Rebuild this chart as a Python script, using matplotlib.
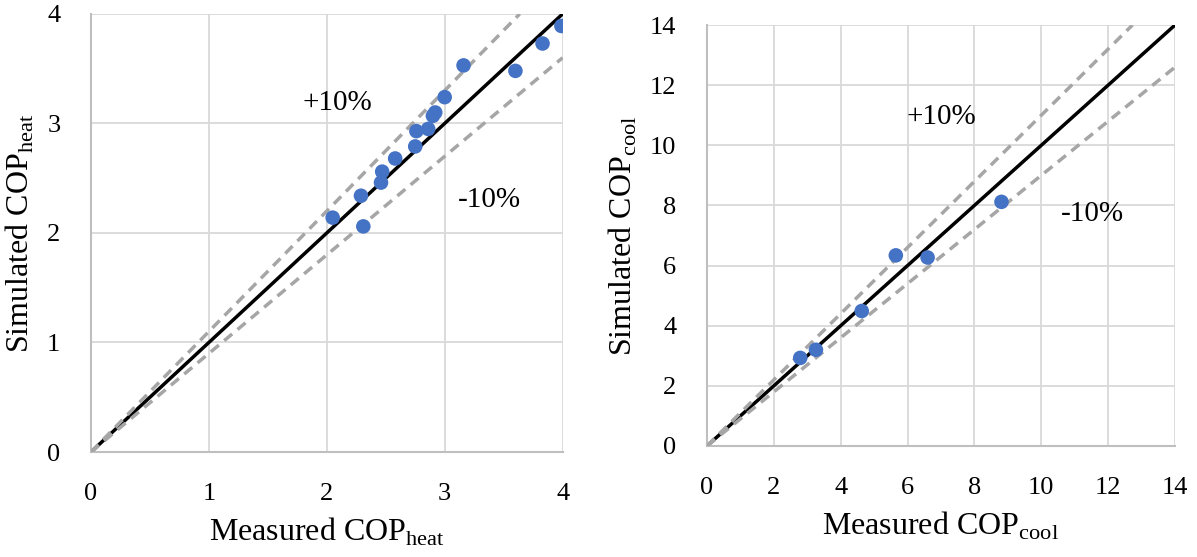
import numpy as np
import matplotlib.pyplot as plt

# datos
meas_heat = [2.05, 2.29, 2.31, 2.46, 2.47, 2.58, 2.75, 2.76, 2.86, 2.90, 2.92, 3.00, 3.16, 3.60, 3.83, 3.99]
sim_heat = [2.14, 2.34, 2.06, 2.46, 2.56, 2.68, 2.79, 2.93, 2.95, 3.07, 3.10, 3.24, 3.53, 3.48, 3.73, 3.89]

meas_cool = [2.79, 3.26, 4.63, 5.65, 6.60, 8.81]
sim_cool = [2.93, 3.20, 4.49, 6.34, 6.27, 8.12]

heat_ticks = [0, 1, 2, 3, 4]
cool_ticks = [0, 2, 4, 6, 8, 10, 12, 14]

plt.rcParams['font.family'] = ['Liberation Serif', 'DejaVu Serif']

fig = plt.figure(figsize=(11.97, 5.57), dpi=100)
ax1 = fig.add_axes([0.076, 0.1885, 0.394, 0.7865])
ax2 = fig.add_axes([0.5906, 0.1993, 0.391, 0.7557])

blue = '#4472C4'
grid_c = '#d9d9d9'

def draw_panel(ax, meas, sim, ticks, sub, plus_pos, minus_pos):
    lim = ticks[-1]
    x = np.array([0, lim])
    ax.plot(x, x, color='black', lw=2.5, zorder=2)
    ax.plot([0, lim / 1.1], [0, lim], color='#a6a6a6', lw=2.5, ls=(0, (3, 2)), zorder=3)
    ax.plot(x, 0.9 * x, color='#a6a6a6', lw=2.5, ls=(0, (3, 2)), zorder=3)
    ax.scatter(meas, sim, s=110, color=blue, zorder=4, edgecolors='none')
    ax.set_xlim(0, lim)
    ax.set_ylim(0, lim)
    ax.set_xticks(ticks)
    ax.set_yticks(ticks)
    ax.grid(True, color=grid_c, lw=1.3)
    ax.set_axisbelow(True)
    for s in ['top', 'right']:
        ax.spines[s].set_visible(False)
    for s in ['left', 'bottom']:
        ax.spines[s].set_color('#bfbfbf')
        ax.spines[s].set_linewidth(1.5)
    ax.tick_params(axis='x', length=0, pad=22, labelsize=19)
    ax.tick_params(axis='y', length=0, pad=22, labelsize=19)
    ax.set_xlabel('Measured COP$_{\\mathregular{' + sub + '}}$', fontsize=23, labelpad=8)
    ax.set_ylabel('Simulated COP$_{\\mathregular{' + sub + '}}$', fontsize=23, labelpad=8)
    ax.text(plus_pos[0], plus_pos[1], '+10%', fontsize=21, ha='center', va='center')
    ax.text(minus_pos[0], minus_pos[1], '-10%', fontsize=21, ha='center', va='center')

draw_panel(ax1, meas_heat, sim_heat, heat_ticks, 'heat', (2.09, 3.19), (3.38, 2.30))
draw_panel(ax2, meas_cool, sim_cool, cool_ticks, 'cool', (7.02, 10.93), (11.53, 7.73))

plt.savefig('out.png', dpi=100)
